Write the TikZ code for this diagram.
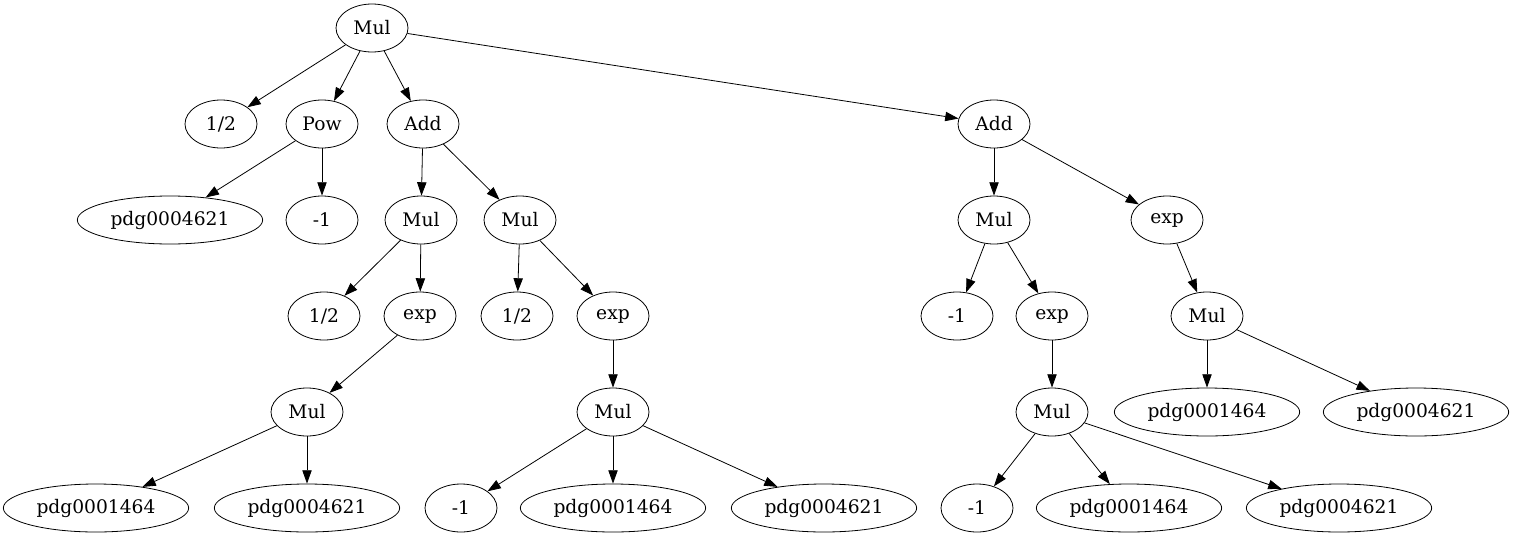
\documentclass[tikz,border=0pt]{standalone}
\usepackage{fontspec}
\setmainfont{DejaVu Serif}
\usetikzlibrary{arrows.meta,shapes.geometric}
\tikzset{
  op/.style={draw, ellipse, line width=0.6pt, inner xsep=3.5pt, inner ysep=0pt, minimum width=54pt, minimum height=36pt, font=\fontsize{14pt}{16pt}\selectfont},
  sym/.style={op, minimum width=139pt},
  edge/.style={-{Triangle[length=10pt,width=7pt]}, line width=0.6pt}
}

\begin{document}
\begin{tikzpicture}[x=0.75pt, y=-0.75pt]
  \useasboundingbox (0,0) rectangle (1515,539);
  % level 0
  \node[op] (root) at (372,28) {Mul};
  % level 1
  \node[op] (halfa) at (221,124) {1/2};
  \node[op] (pow) at (322,124) {Pow};
  \node[op] (adda) at (423,124) {Add};
  \node[op] (addb) at (994,124) {Add};
  % level 2
  \node[sym] (pdga) at (170,220) {pdg0004621};
  \node[op] (nega) at (322,220) {-1};
  \node[op] (mula) at (421,220) {Mul};
  \node[op] (mulb) at (520,220) {Mul};
  \node[op] (mulc) at (994,220) {Mul};
  \node[op] (expa) at (1167,220) {exp};
  % level 3
  \node[op] (halfb) at (324,316) {1/2};
  \node[op] (expb) at (420,316) {exp};
  \node[op] (halfc) at (517,316) {1/2};
  \node[op] (expc) at (613,316) {exp};
  \node[op] (negb) at (957,316) {-1};
  \node[op] (expd) at (1052,316) {exp};
  \node[op] (muld) at (1207,316) {Mul};
  % level 4
  \node[op] (mule) at (307,412) {Mul};
  \node[op] (mulf) at (613,412) {Mul};
  \node[op] (mulg) at (1052,412) {Mul};
  \node[sym] (pdgb) at (1207,412) {pdg0001464};
  \node[sym] (pdgc) at (1416,412) {pdg0004621};
  % level 5
  \node[sym] (pdgd) at (96,508) {pdg0001464};
  \node[sym] (pdge) at (307,508) {pdg0004621};
  \node[op] (negc) at (461,508) {-1};
  \node[sym] (pdgf) at (613,508) {pdg0001464};
  \node[sym] (pdgg) at (824,508) {pdg0004621};
  \node[op] (negd) at (977,508) {-1};
  \node[sym] (pdgh) at (1129,508) {pdg0001464};
  \node[sym] (pdgi) at (1339,508) {pdg0004621};

  \foreach \a/\b in {root/halfa, root/pow, root/adda, root/addb,
                     pow/pdga, pow/nega, adda/mula, adda/mulb,
                     addb/mulc, addb/expa,
                     mula/halfb, mula/expb, mulb/halfc, mulb/expc,
                     mulc/negb, mulc/expd, expa/muld,
                     expb/mule, expc/mulf, expd/mulg,
                     muld/pdgb, muld/pdgc,
                     mule/pdgd, mule/pdge,
                     mulf/negc, mulf/pdgf, mulf/pdgg,
                     mulg/negd, mulg/pdgh, mulg/pdgi}
    \draw[edge] (\a) -- (\b);
\end{tikzpicture}
\end{document}
